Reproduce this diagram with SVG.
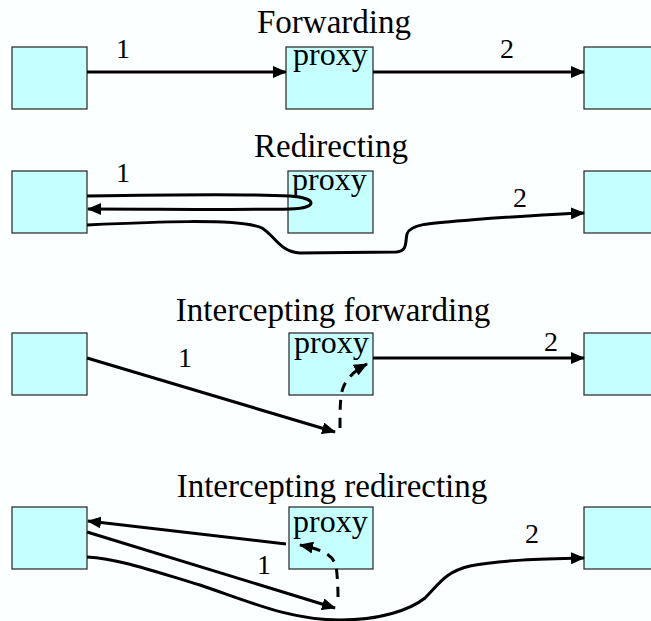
<svg xmlns="http://www.w3.org/2000/svg" width="651" height="621" viewBox="0 0 651 621">
<style>
.box{fill:#C6FFFF;stroke:#333333;stroke-width:1.3}
.t{font-family:"Liberation Serif","Times New Roman",serif;fill:#000}
.title{font-size:33px;text-anchor:middle}
.px{font-size:32px}
.lb{font-size:28px}
.ln{fill:none;stroke:#000;stroke-width:3}
.ar{marker-end:url(#ah)}
.da{stroke-dasharray:10,8}
</style>
<defs>
<marker id="ah" markerUnits="userSpaceOnUse" markerWidth="14" markerHeight="12" viewBox="0 0 14 12" refX="13" refY="6" orient="auto">
<path d="M0,0 L14,6 L0,12 z" fill="#000"/>
</marker>
</defs>
<rect width="651" height="621" fill="#FCFFFF"/>
<g id="titles">
<text class="t title" x="334" y="33">Forwarding</text>
<text class="t title" x="331" y="157">Redirecting</text>
<text class="t title" x="333" y="321">Intercepting forwarding</text>
<text class="t title" x="332" y="497">Intercepting redirecting</text>
</g>
<g id="r1-client"><rect class="box" x="12" y="47" width="75" height="62"/></g>
<g id="r1-proxy"><rect class="box" x="286" y="47" width="87" height="62"/><text class="t px" x="293" y="65">proxy</text></g>
<g id="r1-server"><rect class="box" x="584" y="47" width="75" height="62"/></g>
<g id="r2-client"><rect class="box" x="12" y="171" width="75" height="62"/></g>
<g id="r2-proxy"><rect class="box" x="288" y="171" width="85" height="62"/><text class="t px" x="292" y="190">proxy</text></g>
<g id="r2-server"><rect class="box" x="584" y="171" width="75" height="62"/></g>
<g id="r3-client"><rect class="box" x="12" y="333" width="75" height="62"/></g>
<g id="r3-proxy"><rect class="box" x="289" y="333" width="84" height="62"/><text class="t px" x="294" y="353">proxy</text></g>
<g id="r3-server"><rect class="box" x="584" y="333" width="75" height="62"/></g>
<g id="r4-client"><rect class="box" x="12" y="507" width="75" height="62"/></g>
<g id="r4-proxy"><rect class="box" x="289" y="507" width="84" height="62"/><text class="t px" x="293" y="532">proxy</text></g>
<g id="r4-server"><rect class="box" x="584" y="507" width="75" height="62"/></g>
<g id="connectors">
<path class="ln ar" d="M87,72 L286,72"/>
<path class="ln ar" d="M373,72 L584,72"/>
<text class="t lb" x="116" y="58">1</text>
<text class="t lb" x="500" y="58">2</text>
<path class="ln ar" d="M87,196 C150,195 250,194 290,196 C318,198 318,208 290,209 C250,210 150,209 88,209"/>
<path class="ln ar" d="M87,225 C150,222 240,218 262,228 C275,236 280,252 300,253 L396,252 C408,251 405,242 407,234 C410,224 430,223 470,220 C510,217 550,214 584,213"/>
<text class="t lb" x="116" y="182">1</text>
<text class="t lb" x="513" y="207">2</text>
<path class="ln ar" d="M87,358 L335,432"/>
<path class="ln da ar" d="M340,428 C340,410 340,396 343,388 C347,378 354,371 367,364"/>
<path class="ln ar" d="M373,358 L584,358"/>
<text class="t lb" x="178" y="367">1</text>
<text class="t lb" x="544" y="351">2</text>
<path class="ln ar" d="M286,544 L88,521"/>
<path class="ln ar" d="M87,532 L335,608"/>
<path class="ln da ar" d="M338,597 C338,585 337,572 336,566 C333,556 325,550 300,545"/>
<path class="ln ar" d="M87,557 C120,559 150,570 200,585 C250,602 290,620 340,620 C380,620 410,610 425,598 C440,583 445,572 470,566 C500,560 540,559 584,558"/>
<text class="t lb" x="257" y="574">1</text>
<text class="t lb" x="525" y="543">2</text>
</g>
</svg>
